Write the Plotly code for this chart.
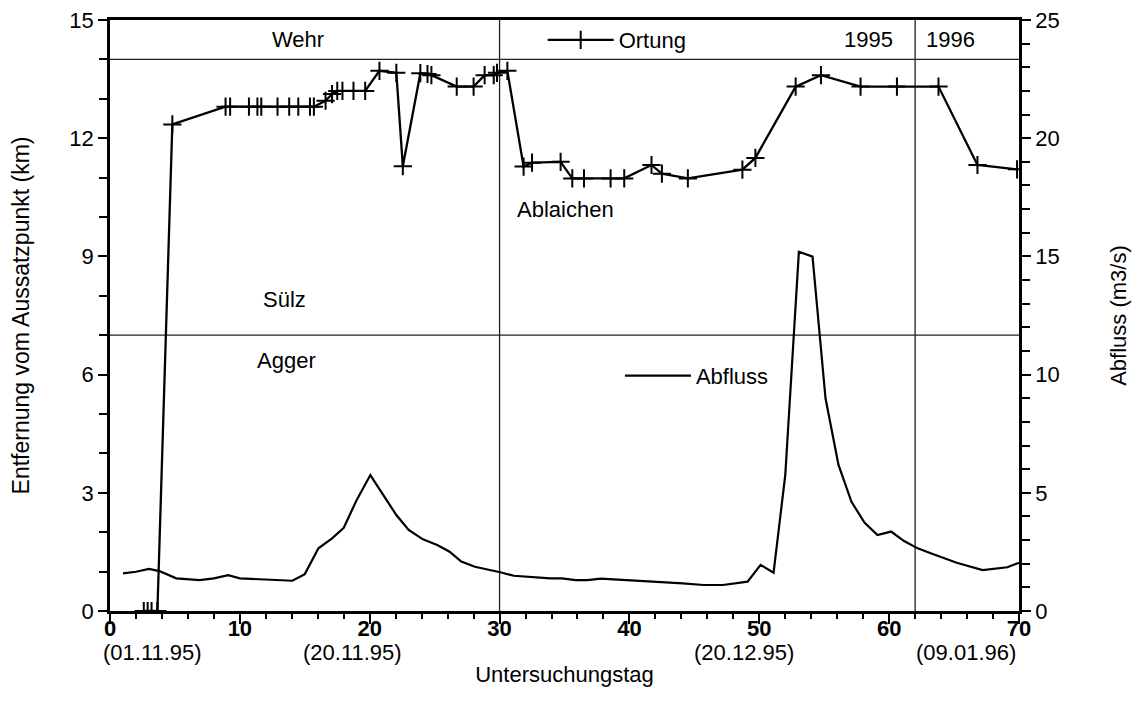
import plotly.graph_objects as go

# ---- data ----
ortung_tag = [2.6, 2.9, 3.2, 3.65, 4.8,
              8.9, 9.25, 10.7, 11.35, 11.65, 12.9, 13.8, 14.5, 15.4, 15.7,
              16.6, 17.1, 17.5, 17.9, 18.75, 19.65, 20.75, 22.05, 22.55,
              23.9, 24.45, 24.75, 26.7, 28.0, 28.85, 29.55, 29.8, 30.6,
              31.85, 32.5, 34.7, 35.6, 36.5, 38.55, 39.6, 41.7, 42.5, 44.5,
              48.7, 49.7, 52.8, 54.75, 57.8, 60.6, 63.8, 66.8, 69.85]
ortung_km = [0, 0, 0, 0, 12.35,
             12.8, 12.8, 12.8, 12.8, 12.8, 12.8, 12.8, 12.8, 12.8, 12.8,
             12.95, 13.12, 13.2, 13.2, 13.2, 13.2, 13.71, 13.66, 11.29,
             13.65, 13.63, 13.6, 13.31, 13.31, 13.6, 13.6, 13.66, 13.71,
             11.28, 11.38, 11.4, 10.98, 10.98, 10.98, 10.98, 11.32, 11.1, 10.98,
             11.2, 11.5, 13.31, 13.6, 13.31, 13.31, 13.31, 11.32, 11.21]

abfluss_tag = [1, 2, 3, 3.8, 5.1, 6.9, 8, 9.1, 10, 12.1, 14.05, 15, 16.05, 17.1,
               18, 19, 20.05, 21.05, 22.05, 23, 24.1, 25.2, 26.15, 27.05, 28.1,
               30.05, 31.1, 33.9, 34.8, 35.85, 36.75, 37.8, 39.8, 42, 44.1, 45.7,
               47.2, 49.1, 50.1, 51.1, 52, 53.05, 54.1, 55.1, 56.1, 57.1, 58.1,
               59.1, 60.15, 61.15, 62.2, 63.2, 64.2, 65.2, 67.2, 69.1, 70]
abfluss_m3s = [1.59, 1.66, 1.78, 1.69, 1.38, 1.31, 1.38, 1.52, 1.38, 1.34, 1.28,
               1.56, 2.65, 3.07, 3.52, 4.7, 5.75, 4.9, 4.06, 3.43, 3.03, 2.79,
               2.51, 2.09, 1.87, 1.64, 1.49, 1.38, 1.38, 1.31, 1.31, 1.37, 1.31,
               1.25, 1.17, 1.1, 1.1, 1.24, 1.95, 1.62, 5.75, 15.2, 14.99, 9.0,
               6.18, 4.62, 3.74, 3.21, 3.36, 2.96, 2.65, 2.44, 2.23, 2.04, 1.73,
               1.85, 2.04]

x_ticks = [0, 10, 20, 30, 40, 50, 60, 70]
x_ticktext = ["<b>%d</b>" % v for v in x_ticks]
date_pos = [3.3, 18.7, 48.8, 65.9]
date_text = ["(01.11.95)", "(20.11.95)", "(20.12.95)", "(09.01.96)"]

zone_km = [14, 7]           # Wehr / Sülz-Agger boundaries
year_lines = [30, 62]       # vertical markers

labels_text = ["Wehr", "1995", "1996", "Ablaichen", "Sülz", "Agger"]
labels_x = [14.5, 58.4, 64.7, 35.1, 13.4, 13.6]
labels_y = [14.5, 14.5, 14.5, 10.2, 7.9, 6.37]

FONT = "Liberation Sans, Arial, sans-serif"
FS = 22

fig = go.Figure()
fig.add_trace(go.Scatter(
    x=ortung_tag, y=ortung_km, name="Ortung", mode="lines+markers",
    line=dict(color="black", width=2.3),
    marker=dict(symbol="cross-thin", size=13, color="black",
                line=dict(color="black", width=2)),
    legend="legend", yaxis="y"))
fig.add_trace(go.Scatter(
    x=abfluss_tag, y=abfluss_m3s, name="Abfluss", mode="lines",
    line=dict(color="black", width=2.2),
    legend="legend2", yaxis="y2"))

for k in zone_km:
    fig.add_shape(type="line", xref="x", yref="y", x0=0, x1=70, y0=k, y1=k,
                  line=dict(color="#222", width=1.3), layer="below")
for d in year_lines:
    fig.add_shape(type="line", xref="x", yref="paper", x0=d, x1=d, y0=0, y1=1,
                  line=dict(color="#222", width=1.3), layer="below")

for t, x, y in zip(labels_text, labels_x, labels_y):
    fig.add_annotation(x=x, y=y, xref="x", yref="y", text=t, showarrow=False,
                       font=dict(family=FONT, size=FS, color="black"))

for t, x in zip(date_text, date_pos):
    fig.add_annotation(x=x, y=-0.071, xref="x", yref="paper", text=t,
                       showarrow=False, yanchor="middle",
                       font=dict(family=FONT, size=FS, color="black"))

axis_common = dict(showgrid=False, zeroline=False, showline=True,
                   linecolor="black", linewidth=2.5, ticks="outside",
                   tickcolor="black", tickwidth=2, automargin=False,
                   tickfont=dict(family=FONT, size=FS, color="black"))

fig.update_layout(
    width=1137, height=713,
    margin=dict(l=110, r=118, t=20, b=102),
    paper_bgcolor="white", plot_bgcolor="white",
    font=dict(family=FONT, size=FS, color="black"),
    xaxis=dict(range=[0, 70], tickvals=x_ticks, ticktext=x_ticktext,
               ticklen=10, mirror=True, ticklabelstandoff=-14,
               minor=dict(dtick=2, ticklen=5, ticks="outside",
                          tickcolor="black", tickwidth=1.5),
               title=dict(text="Untersuchungstag", standoff=27,
                          font=dict(family=FONT, size=FS)),
               **axis_common),
    yaxis=dict(range=[0, 15], dtick=3, ticklen=9,
               minor=dict(dtick=1, ticklen=8, ticks="outside",
                          tickcolor="black", tickwidth=1.5),
               title=dict(text="Entfernung vom Aussatzpunkt (km)", standoff=34,
                          font=dict(family=FONT, size=23)),
               **axis_common),
    yaxis2=dict(range=[0, 25], dtick=5, ticklen=9, overlaying="y", side="right",
                minor=dict(dtick=1, ticklen=8, ticks="outside",
                           tickcolor="black", tickwidth=1.5),
                title=dict(text="Abfluss (m3/s)", standoff=52,
                           font=dict(family=FONT, size=FS)),
                **axis_common),
    legend=dict(x=0.476, y=0.966, xanchor="left", yanchor="middle",
                itemwidth=66,
                bgcolor="rgba(0,0,0,0)", font=dict(family=FONT, size=FS)),
    legend2=dict(x=0.561, y=0.398, xanchor="left", yanchor="middle",
                 itemwidth=66,
                 bgcolor="rgba(0,0,0,0)", font=dict(family=FONT, size=FS)),
    showlegend=True,
)

fig.write_html("out.html")
